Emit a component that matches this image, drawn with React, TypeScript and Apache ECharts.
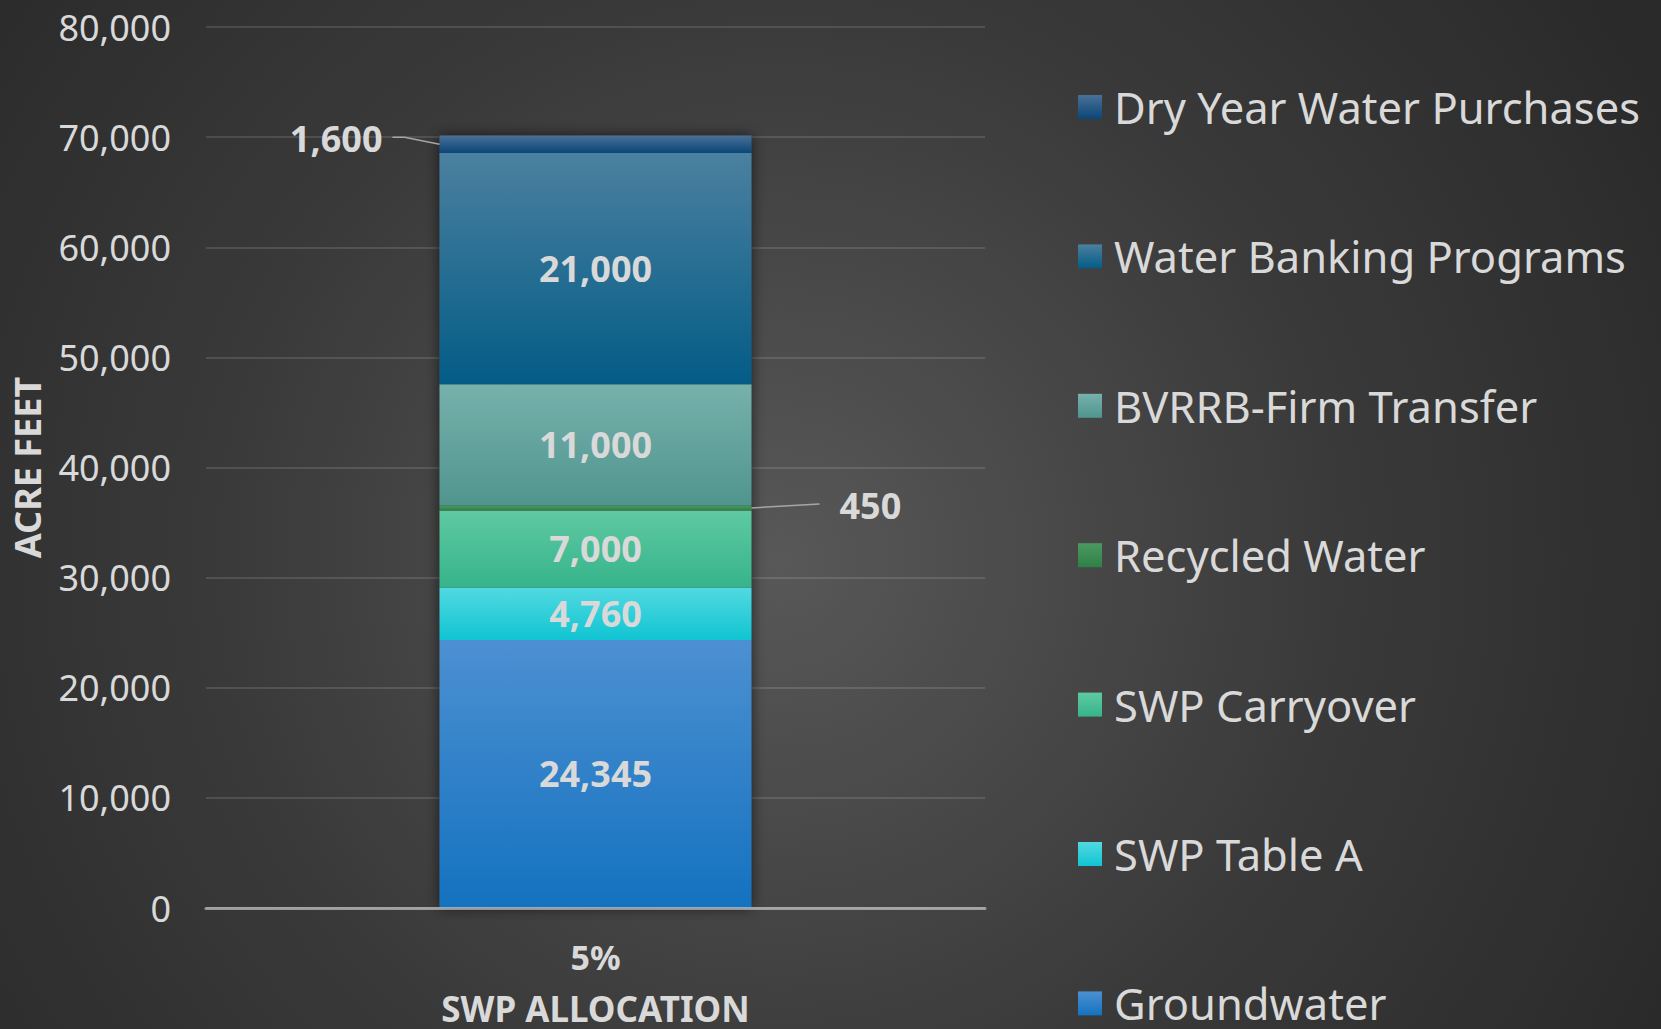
import React, { useEffect, useRef } from "react";
import * as echarts from "echarts";

// ---- data ----
const categories = ["5%"];
const seriesNames = [
  "Groundwater",
  "SWP Table A",
  "SWP Carryover",
  "Recycled Water",
  "BVRRB-Firm Transfer",
  "Water Banking Programs",
  "Dry Year Water Purchases",
];
const groundwater = [24345];
const swpTableA = [4760];
const swpCarryover = [7000];
const recycledWater = [450];
const bvrrbFirmTransfer = [11000];
const waterBankingPrograms = [21000];
const dryYearWaterPurchases = [1600];
const seriesValues = [
  groundwater,
  swpTableA,
  swpCarryover,
  recycledWater,
  bvrrbFirmTransfer,
  waterBankingPrograms,
  dryYearWaterPurchases,
];
const yMin = 0;
const yMax = 80000;
const yInterval = 10000;
const yAxisTitle = "ACRE FEET";
const xAxisTitle = "SWP ALLOCATION";
// series whose labels sit outside the bar with a leader line (-1 left, +1 right)
const outsideLabels: Record<string, number> = {
  "Dry Year Water Purchases": -1,
  "Recycled Water": 1,
};

// ---- styles ----
const gradients: [string, string][] = [
  ["#4c90d2", "#1472bf"],
  ["#52d9e1", "#10c5d2"],
  ["#5fc9a2", "#36b48b"],
  ["#4a9a60", "#2f8048"],
  ["#77b1ac", "#50958e"],
  ["#4b80a0", "#035c86"],
  ["#4a7098", "#0a4677"],
];
const FONT = "'Noto Sans', 'DejaVu Sans', sans-serif";
const TXT = "#d9d9d9";
const BAR_W = 312;

const fmt = (v: number) => Number(v).toLocaleString("en-US");

export default function App() {
  const ref = useRef<HTMLDivElement>(null);
  useEffect(() => {
    if (!ref.current) return;
    const chart = echarts.init(ref.current, undefined, { renderer: "svg" });
    const totals = categories.map((_, i) =>
      seriesValues.reduce((s, arr) => s + arr[i], 0)
    );
    // leader-line anchor points: [categoryIndex, segment middle value, side]
    const leaderData: number[][] = [];
    categories.forEach((_, ci) => {
      let base = 0;
      seriesNames.forEach((name, si) => {
        const v = seriesValues[si][ci];
        if (outsideLabels[name] !== undefined) {
          leaderData.push([ci, base + v / 2, outsideLabels[name]]);
        }
        base += v;
      });
    });

    const labelCfg = (name: string) => {
      const base: any = {
        show: true,
        formatter: (p: any) => fmt(p.value),
        color: TXT,
        fontFamily: FONT,
        fontWeight: "bold",
        fontSize: 36,
      };
      if (outsideLabels[name] === -1) {
        return { ...base, position: "left", distance: 57, offset: [0, -6] };
      }
      if (outsideLabels[name] === 1) {
        return { ...base, position: "right", distance: 88, offset: [0, -2] };
      }
      return { ...base, position: "inside" };
    };
    const series: any[] = [
      {
        name: "__shadow",
        type: "bar",
        data: totals,
        barWidth: BAR_W,
        barGap: "-100%",
        silent: true,
        itemStyle: {
          color: "#3a3a3a",
          shadowBlur: 14,
          shadowColor: "rgba(0,0,0,0.6)",
        },
        label: { show: false },
      },
      ...seriesNames.map((name, idx) => ({
        name,
        type: "bar",
        stack: "total",
        data: seriesValues[idx],
        barWidth: BAR_W,
        barGap: "-100%",
        itemStyle: {
          color: new echarts.graphic.LinearGradient(0, 0, 0, 1, [
            { offset: 0, color: gradients[idx][0] },
            { offset: 1, color: gradients[idx][1] },
          ]),
        },
        label: labelCfg(name),
      })),
      {
        name: "__leaders",
        type: "custom",
        silent: true,
        z: 10,
        data: leaderData,
        encode: { x: 0, y: 1 },
        renderItem: (params: any, api: any) => {
          const c = api.coord([api.value(0), api.value(1)]);
          const side = api.value(2);
          const edgeX = c[0] + side * (BAR_W / 2);
          const pts =
            side < 0
              ? [
                  [edgeX, c[1]],
                  [edgeX - 35, c[1] - 7],
                  [edgeX - 47, c[1] - 7],
                ]
              : [
                  [edgeX, c[1]],
                  [edgeX + 68, c[1] - 4],
                ];
          return {
            type: "polyline",
            shape: { points: pts },
            style: { stroke: "#a6a6a6", lineWidth: 1.5, fill: "none" },
          };
        },
      },
    ];
    chart.setOption({
      animation: false,
      grid: {
        left: 206,
        right: 676,
        top: 27,
        bottom: 121,
        containLabel: false,
        outerBoundsMode: "none",
      },
      legend: {
        orient: "vertical",
        left: 1078,
        top: 85,
        height: 1000,
        padding: 0,
        itemWidth: 24,
        itemHeight: 24,
        itemGap: 105.4,
        icon: "rect",
        data: seriesNames.slice().reverse(),
        selectedMode: false,
        textStyle: {
          color: TXT,
          fontSize: 43.5,
          fontFamily: FONT,
          padding: [0, 0, 0, 7],
        },
      },
      xAxis: {
        type: "category",
        data: categories,
        name: xAxisTitle,
        nameLocation: "middle",
        nameGap: 83,
        nameTextStyle: {
          color: TXT,
          fontSize: 35,
          fontWeight: "bold",
          fontFamily: FONT,
        },
        axisLine: {
          show: true,
          lineStyle: { color: "rgba(217,217,217,0.6)", width: 3 },
        },
        axisTick: { show: false },
        axisLabel: {
          color: TXT,
          fontSize: 34,
          fontWeight: "bold",
          fontFamily: FONT,
          margin: 32,
        },
        z: 5,
      },
      yAxis: {
        type: "value",
        min: yMin,
        max: yMax,
        interval: yInterval,
        name: yAxisTitle,
        nameLocation: "middle",
        nameGap: 161,
        nameTextStyle: {
          color: TXT,
          fontSize: 36,
          fontWeight: "bold",
          fontFamily: FONT,
        },
        axisLine: { show: false },
        axisTick: { show: false },
        axisLabel: {
          color: TXT,
          fontSize: 36,
          fontFamily: FONT,
          margin: 35,
          formatter: (v: number) => fmt(v),
        },
        splitLine: {
          lineStyle: { color: "rgba(255,255,255,0.12)", width: 2 },
        },
      },
      series,
    });
    return () => chart.dispose();
  }, []);
  return (
    <div
      ref={ref}
      style={{
        position: "absolute",
        left: 0,
        top: 0,
        width: 1661,
        height: 1029,
        background:
          "radial-gradient(circle 1000px at 780px 560px, #585858 0%, #3a3a3a 55%, #2a2a2a 100%)",
      }}
    />
  );
}
